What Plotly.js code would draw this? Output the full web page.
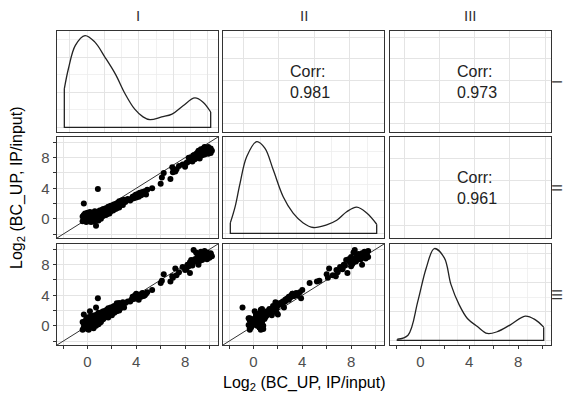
<!DOCTYPE html>
<html>
<head>
<meta charset="utf-8">
<script src="https://cdn.plot.ly/plotly-3.0.1.min.js"></script>
<style>html,body{margin:0;padding:0;background:#fff;}#chart{width:563px;height:404px;}</style>
</head>
<body>
<div id="chart"></div>
<script>
// ---------------- data ----------------
const varNames = ['I', 'II', 'III'];
const corrText = ['Corr:<br>0.981', 'Corr:<br>0.973', 'Corr:<br>0.961']; // I-II, I-III, II-III
const axisTitle = 'Log<sub>2</sub> (BC_UP, IP/input)';
const tickVals = [0, 4, 8];
const tickLabels = ['0', '4', '8'];
const minorTickVals = [-2, 2, 6, 10];

const varI = [-0.4,-0.3,-0.3,-0.2,-0.2,-0.1,-0.1,0.0,0.0,0.0, 0.1,0.1,0.2,0.2,0.2,0.3,0.3,0.3,0.4,0.4,
  0.4,0.5,0.5,0.5,0.6,0.6,0.6,0.7,0.7,0.7, 0.8,0.8,0.8,0.9,0.9,0.9,1.0,1.0,1.0,1.1,
  1.1,1.1,1.2,1.2,1.2,1.3,1.3,1.3,1.4,1.4, 1.5,1.5,1.5,1.6,1.6,1.7,1.7,1.7,1.8,1.8,
  1.9,1.9,2.0,2.0,2.1,2.1,2.2,2.2,2.3,2.4, 2.4,2.5,2.6,2.6,2.7,2.8,2.9,3.0,3.1,3.3,
  -0.3,0.85,0.7,2.4,0.2,3.6,3.7,3.8,3.9,4.0, 4.0,4.1,4.2,4.2,4.3,4.4,4.5,4.6,4.7,4.8,
  3.5,4.9,5.3,6.0,6.1,6.8,6.25,6.95,7.2,7.5, 7.3,7.8,8.0,8.2,8.4,8.5,8.6,8.7,8.8,8.9,
  9.0,9.0,9.1,9.2,9.2,9.3,9.4,9.4,9.5,9.5, 9.6,9.6,9.7,9.7,9.8,9.8,9.9,9.9,10.0,10.0,
  10.1,10.2,9.3,8.3,8.1,9.1,8.9,9.6,8.6,10.1, 8.4,7.0,-0.3,-0.1,0.1,0.3,0.5,0.7,0.9,1.1,
  0.0,-0.4];
const varII = [-0.3,0.5,-0.2,0.1,0.7,-0.4,0.3,0.8,-0.2,0.5, 0.0,0.6,-0.3,0.3,0.9,-0.1,0.5,-0.4,0.2,0.8,
  -0.2,0.1,0.6,-0.3,0.4,1.0,-0.1,0.3,0.7,0.0, 0.5,-0.1,0.9,0.2,0.0,0.7,0.3,1.1,0.5,0.2,
  0.9,0.0,0.6,1.2,0.3,0.8,1.3,0.4,1.0,0.5, 0.7,1.4,0.5,1.0,0.6,1.2,1.6,0.8,1.3,0.7,
  1.0,1.7,1.2,1.5,1.8,1.1,1.6,1.9,1.3,2.0, 1.4,2.1,1.5,2.3,1.9,2.4,1.8,2.5,2.2,2.6,
  2.0,3.9,-0.9,1.9,0.1,2.6,2.9,2.7,3.1,2.8, 3.2,3.0,3.3,2.9,3.4,3.1,3.5,3.3,3.6,3.2,
  2.4,3.8,4.0,4.6,5.4,5.2,6.0,6.75,6.2,6.9, 6.5,7.1,6.8,7.4,7.9,7.6,8.1,8.3,7.8,8.4,
  8.0,8.6,8.2,8.8,7.9,8.5,9.0,8.3,8.7,9.2, 8.4,8.9,8.6,9.3,8.8,9.1,8.5,9.4,9.0,8.7,
  9.2,8.9,9.1,8.0,7.3,8.9,8.2,9.4,7.5,8.6, 7.7,6.1,0.4,0.5,-0.3,0.6,-0.3,0.8,-0.2,0.9,
  0.7,0.3];
const varIII = [-0.5,0.3,-0.2,0.6,-0.3,0.1,0.9,-0.4,0.5,1.1, 0.2,-0.5,0.8,0.0,1.2,0.4,-0.2,1.0,0.1,1.3,
  -0.1,0.6,1.1,-0.3,0.7,1.4,0.2,1.2,0.4,0.9, 1.5,0.3,0.9,1.3,0.6,1.7,0.8,1.4,0.4,1.6,
  1.0,0.5,1.3,1.8,0.8,1.4,1.9,0.9,1.6,1.1, 1.3,2.0,1.6,1.2,2.1,1.6,2.3,1.1,1.8,2.2,
  1.5,2.4,1.8,1.4,2.5,1.9,2.6,1.7,2.2,2.7, 1.9,2.8,2.0,3.0,2.3,2.7,3.1,2.4,3.0,3.2,
  1.5,3.6,2.4,2.95,1.9,3.4,3.8,3.5,4.0,3.6, 4.2,3.7,3.9,3.4,4.1,3.8,4.3,3.9,4.0,4.2,
  3.2,4.4,4.7,5.6,5.9,5.8,6.75,6.5,7.5,7.0, 6.6,7.7,7.3,8.0,8.3,8.6,8.1,9.9,8.7,8.4,
  9.0,8.7,8.3,9.2,8.5,8.9,9.4,8.6,9.1,8.8, 8.9,9.5,9.0,9.3,8.7,9.6,9.2,9.0,9.3,8.9,
  9.5,9.1,9.7,7.8,7.4,8.0,9.6,9.8,7.9,9.4, 6.9,6.3,0.3,-0.2,0.7,0.1,1.0,0.0,0.2,1.6,
  0.9,0.5];

// kernel density curves
const densIx = [-0.4,-0.1,0.4,1.1,1.8,2.55,3.3,4.0,4.7,5.3,5.8,6.65,7.4,8.2,9.05,9.65,10.2];
const densIy = [0.055,0.084,0.117,0.131,0.122,0.100,0.076,0.048,0.026,0.015,0.011,0.015,0.019,0.031,0.042,0.036,0.022];
const densIIx = [-0.9,-0.57,-0.22,0.25,0.96,1.53,2.12,2.82,3.52,4.23,4.94,5.88,6.59,7.29,8.0,8.7,9.4];
const densIIy = [0.016,0.040,0.076,0.117,0.140,0.130,0.097,0.056,0.031,0.016,0.009,0.013,0.020,0.033,0.040,0.031,0.014];
const densIIIx = [-0.5,0.26,0.96,1.55,2.13,2.84,3.31,3.89,4.48,5.19,5.89,6.59,7.53,8.59,9.29,9.9];
const densIIIy = [0.002,0.009,0.068,0.125,0.159,0.143,0.097,0.062,0.038,0.024,0.012,0.015,0.027,0.042,0.036,0.023];

// ---------------- layout helpers ----------------
const W = 563, H = 404;
const FONT = 'Liberation Sans, Arial, Helvetica, sans-serif';
const colEdges = [[57, 218], [223, 384], [390, 551]];
const rowEdges = [[31, 132], [137, 238], [244, 345]];
const scatterRange = [-2.5, 10.7];
const GRID = '#e4e4e4', MINOR = '#eeeeee', LINE = '#333333';

const vars = [varI, varII, varIII];
const dens = [[densIx, densIy], [densIIx, densIIy], [densIIIx, densIIIy]];

function padRange(a) { const mn = Math.min(...a), mx = Math.max(...a), p = (mx - mn) * 0.05; return [mn - p, mx + p]; }
function densRange(d) { const m = Math.max(...d); return [-0.05 * m, 1.05 * m]; }
const dataRanges = vars.map(padRange);

const xDom = c => [colEdges[c][0] / W, colEdges[c][1] / W];
const yDom = r => [1 - rowEdges[r][1] / H, 1 - rowEdges[r][0] / H];
const nm = (p, k) => p + (k === 1 ? '' : k);
const lk = (p, k) => p + 'axis' + (k === 1 ? '' : k);

function base(domain, anchor) {
  return { domain, anchor, showline: true, mirror: true, linecolor: LINE, linewidth: 1.4,
    zeroline: false, showgrid: true, gridcolor: GRID, gridwidth: 1, ticks: '',
    showticklabels: false, fixedrange: true };
}
function scatterAxis(ax, visible) {
  Object.assign(ax, { range: scatterRange, tickmode: 'array', tickvals: tickVals, ticktext: tickLabels,
    minor: { tickmode: 'array', tickvals: minorTickVals, showgrid: true, gridcolor: GRID, gridwidth: 1,
      ticks: visible ? 'outside' : '', ticklen: 3, tickwidth: 1, tickcolor: LINE } });
  if (visible) {
    Object.assign(ax, { ticks: 'outside', ticklen: 3, tickwidth: 1, tickcolor: LINE,
      showticklabels: true, tickfont: { family: FONT, size: 15, color: '#4d4d4d' } });
  }
}

const layout = { width: W, height: H, margin: { l: 0, r: 0, t: 0, b: 0 },
  paper_bgcolor: '#fff', plot_bgcolor: '#fff', showlegend: false,
  font: { family: FONT }, annotations: [] };
const traces = [];

for (let r = 0; r < 3; r++) {
  for (let c = 0; c < 3; c++) {
    const k = r * 3 + c + 1;
    const xa = base(xDom(c), nm('y', k));
    const ya = base(yDom(r), nm('x', k));
    if (r > c) {
      scatterAxis(xa, r === 2);
      scatterAxis(ya, c === 0);
      traces.push({ type: 'scatter', mode: 'lines', x: scatterRange, y: scatterRange,
        xaxis: nm('x', k), yaxis: nm('y', k), line: { color: LINE, width: 1 }, hoverinfo: 'skip' });
      traces.push({ type: 'scatter', mode: 'markers', x: vars[c], y: vars[r],
        xaxis: nm('x', k), yaxis: nm('y', k), marker: { color: '#000', size: 6 }, hoverinfo: 'skip' });
    } else if (r === c) {
      const [dx, dy] = dens[c];
      Object.assign(xa, { range: dataRanges[c], tick0: 0, dtick: 2.5,
        minor: { dtick: 1.25, showgrid: true, gridcolor: MINOR, gridwidth: 0.8 } });
      Object.assign(ya, { range: densRange(dy), tick0: 0, dtick: 0.05,
        minor: { dtick: 0.025, showgrid: true, gridcolor: MINOR, gridwidth: 0.8 } });
      const n = dx.length - 1;
      traces.push({ type: 'scatter', mode: 'lines', x: [dx[n], dx[n], dx[0], dx[0]], y: [dy[n], 0, 0, dy[0]],
        xaxis: nm('x', k), yaxis: nm('y', k), line: { color: '#222', width: 1.3 }, hoverinfo: 'skip' });
      traces.push({ type: 'scatter', mode: 'lines', x: dx, y: dy, line: { color: '#222', width: 1.3, shape: 'spline', smoothing: 1 },
        xaxis: nm('x', k), yaxis: nm('y', k), hoverinfo: 'skip' });
    } else {
      Object.assign(xa, { range: dataRanges[c], tick0: 0, dtick: 2.5 });
      Object.assign(ya, { range: dataRanges[r], tick0: 0, dtick: 2.5 });
      traces.push({ type: 'scatter', mode: 'markers', x: [], y: [], xaxis: nm('x', k), yaxis: nm('y', k), hoverinfo: 'skip' });
      const idx = (r === 0 && c === 1) ? 0 : (r === 0 ? 1 : 2);
      layout.annotations.push({ xref: 'paper', yref: 'paper',
        x: ((colEdges[c][0] + colEdges[c][1]) / 2 + 6) / W,
        y: 1 - ((rowEdges[r][0] + rowEdges[r][1]) / 2) / H,
        text: corrText[idx], showarrow: false, align: 'left', xanchor: 'center', yanchor: 'middle',
        font: { family: FONT, size: 16, color: '#222' } });
    }
    layout[lk('x', k)] = xa;
    layout[lk('y', k)] = ya;
  }
}

// bottom tick labels of the last column use the shared scatter scale
layout.xaxis10 = { overlaying: 'x9', anchor: 'y9', side: 'bottom', showline: false, zeroline: false,
  fixedrange: true, showgrid: false };
scatterAxis(layout.xaxis10, true);
layout.xaxis10.showgrid = false;
layout.xaxis10.minor.showgrid = false;
traces.push({ type: 'scatter', mode: 'markers', x: [], y: [], xaxis: 'x10', yaxis: 'y9', hoverinfo: 'skip' });

// strip labels
for (let i = 0; i < 3; i++) {
  layout.annotations.push({ xref: 'paper', yref: 'paper', x: ((colEdges[i][0] + colEdges[i][1]) / 2) / W,
    y: 1 - 15 / H, text: varNames[i], showarrow: false, xanchor: 'center', yanchor: 'middle',
    font: { family: FONT, size: 15, color: '#333' } });
  layout.annotations.push({ xref: 'paper', yref: 'paper', x: 557.5 / W,
    y: 1 - ((rowEdges[i][0] + rowEdges[i][1]) / 2) / H, text: varNames[i], showarrow: false,
    textangle: 90, xanchor: 'center', yanchor: 'middle',
    font: { family: FONT, size: 14, color: '#333' } });
}
// axis titles
layout.annotations.push({ xref: 'paper', yref: 'paper', x: ((colEdges[0][0] + colEdges[2][1]) / 2) / W,
  y: 1 - 383 / H, text: axisTitle, showarrow: false, xanchor: 'center', yanchor: 'middle',
  font: { family: FONT, size: 16, color: '#000' } });
layout.annotations.push({ xref: 'paper', yref: 'paper', x: 17 / W,
  y: 1 - ((rowEdges[0][0] + rowEdges[2][1]) / 2) / H, text: axisTitle, showarrow: false,
  textangle: -90, xanchor: 'center', yanchor: 'middle',
  font: { family: FONT, size: 16, color: '#000' } });

Plotly.newPlot('chart', traces, layout, { displayModeBar: false, staticPlot: true });
</script>
</body>
</html>
